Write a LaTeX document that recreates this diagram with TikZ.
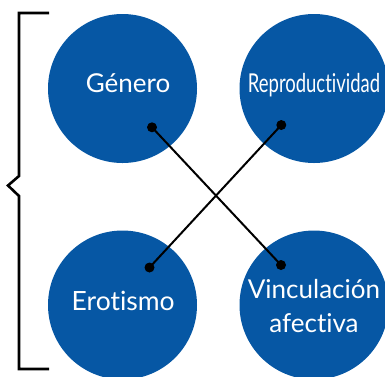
\documentclass[tikz,border=0pt]{standalone}
\usepackage{fontspec}
\setmainfont{Lato}[Ligatures=NoCommon]
\definecolor{circblue}{RGB}{6,87,164}
\begin{document}
\begin{tikzpicture}[x=1pt,y=-1pt,
  bubble/.style={circle,fill=circblue,minimum size=149pt,inner sep=0pt},
  lbl/.style={text=white,font=\fontsize{26}{34}\selectfont,anchor=base,inner sep=0pt},
  dot/.style={circle,fill=black,minimum size=10pt,inner sep=0pt},
  link/.style={line width=2pt},
  bracket/.style={line width=2.6pt}]
\useasboundingbox (0,0) rectangle (385,376);
\clip (0,0) rectangle (385,376);
\node[bubble] (g) at (122.5,88.5) {};
\node[bubble] (r) at (314,88.5) {};
\node[bubble] (e) at (122.5,305) {};
\node[bubble] (v) at (314,305) {};
\node[lbl] (gt) at (128,92.7) {Género};
\node[lbl] (rt) at (314,92) {\scalebox{0.71}[1]{Reproductividad}};
\node[lbl] (et) at (123.2,310) {\fontsize{26.5}{34}\selectfont Erotismo};
\node[lbl] (vt1) at (314,298.7) {Vinculación};
\node[lbl] (vt2) at (314,332.7) {afectiva};
\node[dot] (gd) at (152,127.3) {};
\node[dot] (rd) at (281.3,125) {};
\node[dot] (ed) at (149.5,267.5) {};
\node[dot] (vd) at (281,265) {};
\draw[link] (gd.center) -- (vd.center);
\draw[link] (rd.center) -- (ed.center);
\coordinate (b1) at (49,13);
\coordinate (b2) at (19,13);
\coordinate (b3) at (19,176);
\coordinate (b4) at (8,185.5);
\coordinate (b5) at (19,196);
\coordinate (b6) at (19,369);
\coordinate (b7) at (49,369);
\draw[bracket] (b1) -- (b2) -- (b3) -- (b4) -- (b5) -- (b6) -- (b7);
\end{tikzpicture}
\end{document}
